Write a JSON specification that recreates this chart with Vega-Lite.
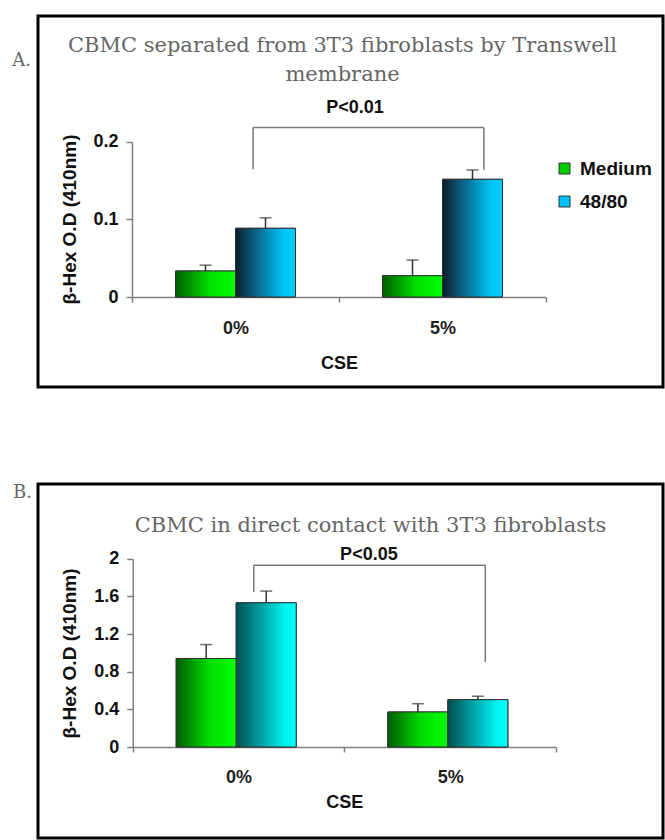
{
  "$schema": "https://vega.github.io/schema/vega-lite/v6.json",
  "padding": {"left": 10, "top": 14, "right": 0, "bottom": 0},
  "background": "white",
  "spacing": 92,
  "config": {
    "view": {"stroke": "#000", "strokeWidth": 3},
    "font": "Liberation Sans",
    "axis": {"grid": false}
  },
  "datasets": {
    "barsA": [
      {"cse": "0%", "grp": "Medium", "value": 0.0335, "upper": 0.041},
      {"cse": "0%", "grp": "48/80", "value": 0.0885, "upper": 0.102},
      {"cse": "5%", "grp": "Medium", "value": 0.0274, "upper": 0.0476},
      {"cse": "5%", "grp": "48/80", "value": 0.1516, "upper": 0.1636}
    ],
    "barsB": [
      {"cse": "0%", "grp": "Medium", "value": 0.94, "upper": 1.088},
      {"cse": "0%", "grp": "48/80", "value": 1.532, "upper": 1.656},
      {"cse": "5%", "grp": "Medium", "value": 0.372, "upper": 0.46},
      {"cse": "5%", "grp": "48/80", "value": 0.503, "upper": 0.539}
    ],
    "brA": [{"from": "0%", "to": "5%", "top": 0.2183, "lbot": 0.1645, "rbot": 0.1636, "ly": 0.2434, "label": "P<0.01"}],
    "brB": [{"from": "0%", "to": "5%", "top": 1.93, "lbot": 1.646, "rbot": 0.903, "ly": 2.043, "label": "P<0.05"}]
  },
  "vconcat": [
    {
      "width": 625,
      "height": 371,
      "title": {
        "text": ["CBMC separated from 3T3 fibroblasts by Transwell", "membrane"],
        "orient": "top", "anchor": "middle", "frame": "group",
        "baseline": "top", "offset": -69, "dx": -8, "lineHeight": 29,
        "font": "DejaVu Serif", "fontSize": 21, "fontWeight": "normal", "color": "#666"
      },
      "resolve": {"axis": {"x": "independent", "y": "independent"}},
      "layer": [
        {
          "data": {"name": "barsA"},
          "mark": {"type": "bar", "stroke": "#333", "strokeWidth": 1},
          "encoding": {
            "x": {"field": "cse", "type": "nominal",
              "scale": {"type": "band", "range": [94, 508], "paddingInner": 0, "paddingOuter": 0},
              "axis": {"orient": "bottom", "offset": -90, "tickBand": "extent", "tickSize": 5, "tickColor": "#808080", "tickWidth": 1.5,
                "domainColor": "#808080", "domainWidth": 1.5, "labelAngle": 0, "labelFont": "Liberation Sans", "labelFontWeight": "bold",
                "labelFontSize": 18, "labelColor": "#222", "labelPadding": 17, "title": "CSE", "titleFont": "Liberation Sans",
                "titleFontWeight": "bold", "titleFontSize": 18, "titleColor": "#111", "titleY": 66, "titleBaseline": "middle"}},
            "xOffset": {"field": "grp", "type": "nominal", "scale": {"domain": ["Medium", "48/80"], "paddingInner": 0, "paddingOuter": 0.725}},
            "y": {"field": "value", "type": "quantitative",
              "scale": {"domain": [0, 0.2], "range": [281, 125.7], "nice": false, "zero": true},
              "axis": {"orient": "left", "offset": -94, "values": [0, 0.1, 0.2], "format": "~g", "tickSize": 6, "tickColor": "#808080",
                "tickWidth": 1.5, "domainColor": "#808080", "domainWidth": 1.5, "labelFont": "Liberation Sans", "labelFontWeight": "bold",
                "labelFontSize": 18, "labelColor": "#111", "labelPadding": 8, "title": "β-Hex O.D (410nm)", "titleFont": "Liberation Sans",
                "titleFontWeight": "bold", "titleFontSize": 19, "titleColor": "#111", "titleX": -63, "titleY": 203, "titleAngle": 270,
                "titleAlign": "center", "titleBaseline": "middle", "grid": false}},
            "color": {"field": "grp", "type": "nominal",
              "scale": {"domain": ["Medium", "48/80"], "range": ["#00cc00", "#00bfff"]},
              "legend": {"orient": "none", "legendX": 517, "legendY": 143, "title": null, "symbolType": "square", "symbolSize": 121,
                "symbolStrokeColor": "#333", "symbolStrokeWidth": 1, "labelFont": "Liberation Sans", "labelFontWeight": "bold",
                "labelFontSize": 19, "labelColor": "#111", "labelOffset": 6, "rowPadding": 13}}
          }
        },
        {
          "data": {"name": "barsA"},
          "transform": [{"filter": "datum.grp === 'Medium'"}],
          "mark": {"type": "bar", "stroke": "#333", "strokeWidth": 1,
            "fill": {"gradient": "linear", "x1": 0, "y1": 0, "x2": 1, "y2": 0,
              "stops": [{"offset": 0, "color": "#005c00"}, {"offset": 0.55, "color": "#00dd00"}, {"offset": 1, "color": "#00ff00"}]}},
          "encoding": {
            "x": {"field": "cse", "type": "nominal", "axis": null},
            "xOffset": {"field": "grp", "type": "nominal"},
            "y": {"field": "value", "type": "quantitative", "axis": null}
          }
        },
        {
          "data": {"name": "barsA"},
          "transform": [{"filter": "datum.grp === '48/80'"}],
          "mark": {"type": "bar", "stroke": "#333", "strokeWidth": 1,
            "fill": {"gradient": "linear", "x1": 0, "y1": 0, "x2": 1, "y2": 0,
              "stops": [{"offset": 0, "color": "#0c1c28"}, {"offset": 0.45, "color": "#0a7aa6"}, {"offset": 0.8, "color": "#00c4f4"}, {"offset": 1, "color": "#00ccff"}]}},
          "encoding": {
            "x": {"field": "cse", "type": "nominal", "axis": null},
            "xOffset": {"field": "grp", "type": "nominal"},
            "y": {"field": "value", "type": "quantitative", "axis": null}
          }
        },
        {
          "data": {"name": "barsA"},
          "mark": {"type": "rule", "color": "#333", "strokeWidth": 1.5},
          "encoding": {
            "x": {"field": "cse", "type": "nominal", "axis": null},
            "xOffset": {"field": "grp", "type": "nominal"},
            "y": {"field": "value", "type": "quantitative", "axis": null},
            "y2": {"field": "upper"}
          }
        },
        {
          "data": {"name": "barsA"},
          "mark": {"type": "tick", "orient": "horizontal", "size": 12, "thickness": 1.5, "color": "#333"},
          "encoding": {
            "x": {"field": "cse", "type": "nominal", "axis": null},
            "xOffset": {"field": "grp", "type": "nominal"},
            "y": {"field": "upper", "type": "quantitative", "axis": null}
          }
        },
        {
          "data": {"name": "brA"},
          "mark": {"type": "rule", "color": "#777", "strokeWidth": 1.5},
          "encoding": {
            "x": {"field": "from", "type": "nominal", "bandPosition": 0.585, "axis": null},
            "y": {"field": "lbot", "type": "quantitative", "axis": null},
            "y2": {"field": "top"}
          }
        },
        {
          "data": {"name": "brA"},
          "mark": {"type": "rule", "color": "#777", "strokeWidth": 1.5},
          "encoding": {
            "x": {"field": "to", "type": "nominal", "bandPosition": 0.70, "axis": null},
            "y": {"field": "rbot", "type": "quantitative", "axis": null},
            "y2": {"field": "top"}
          }
        },
        {
          "data": {"name": "brA"},
          "mark": {"type": "rule", "color": "#777", "strokeWidth": 1.5},
          "encoding": {
            "x": {"field": "from", "type": "nominal", "bandPosition": 0.585, "axis": null},
            "x2": {"field": "to", "bandPosition": 0.70},
            "y": {"field": "top", "type": "quantitative", "axis": null}
          }
        },
        {
          "data": {"name": "brA"},
          "mark": {"type": "text", "font": "Liberation Sans", "fontWeight": "bold", "fontSize": 18, "color": "#111", "align": "center", "baseline": "middle"},
          "encoding": {
            "x": {"field": "to", "type": "nominal", "bandPosition": 0.077, "axis": null},
            "y": {"field": "ly", "type": "quantitative",
              "axis": {"orient": "left", "offset": 0, "title": "A.", "domain": false, "ticks": false, "labels": false, "grid": false,
                "titleX": -17, "titleY": 44, "titleAngle": 0, "titleAlign": "center", "titleBaseline": "middle",
                "titleFont": "DejaVu Serif", "titleFontSize": 18, "titleFontWeight": "normal", "titleColor": "#666"}},
            "text": {"field": "label"}
          }
        }
      ]
    },
    {
      "width": 625,
      "height": 354,
      "title": {
        "text": "CBMC in direct contact with 3T3 fibroblasts",
        "orient": "top", "anchor": "middle", "frame": "group",
        "baseline": "top", "offset": -53, "dx": 20, "lineHeight": 29,
        "font": "DejaVu Serif", "fontSize": 21, "fontWeight": "normal", "color": "#666"
      },
      "resolve": {"axis": {"x": "independent", "y": "independent"}},
      "layer": [
        {
          "data": {"name": "barsB"},
          "mark": {"type": "bar", "stroke": "#333", "strokeWidth": 1},
          "encoding": {
            "x": {"field": "cse", "type": "nominal",
              "scale": {"type": "band", "range": [94.7, 518], "paddingInner": 0, "paddingOuter": 0},
              "axis": {"orient": "bottom", "offset": -91, "tickBand": "extent", "tickSize": 5, "tickColor": "#808080", "tickWidth": 1.5,
                "domainColor": "#808080", "domainWidth": 1.5, "labelAngle": 0, "labelFont": "Liberation Sans", "labelFontWeight": "bold",
                "labelFontSize": 18, "labelColor": "#222", "labelPadding": 16, "title": "CSE", "titleFont": "Liberation Sans",
                "titleFontWeight": "bold", "titleFontSize": 18, "titleColor": "#111", "titleY": 55, "titleBaseline": "middle"}},
            "xOffset": {"field": "grp", "type": "nominal", "scale": {"domain": ["Medium", "48/80"], "paddingInner": 0, "paddingOuter": 0.7535}},
            "y": {"field": "value", "type": "quantitative",
              "scale": {"domain": [0, 2], "range": [263, 74.7], "nice": false, "zero": true},
              "axis": {"orient": "left", "offset": -94.7, "values": [0, 0.4, 0.8, 1.2, 1.6, 2], "format": "~g", "tickSize": 6, "tickColor": "#808080",
                "tickWidth": 1.5, "domainColor": "#808080", "domainWidth": 1.5, "labelFont": "Liberation Sans", "labelFontWeight": "bold",
                "labelFontSize": 18, "labelColor": "#111", "labelPadding": 8, "title": "β-Hex O.D (410nm)", "titleFont": "Liberation Sans",
                "titleFontWeight": "bold", "titleFontSize": 19, "titleColor": "#111", "titleX": -63, "titleY": 169, "titleAngle": 270,
                "titleAlign": "center", "titleBaseline": "middle", "grid": false}},
            "color": {"field": "grp", "type": "nominal",
              "scale": {"domain": ["Medium", "48/80"], "range": ["#00cc00", "#00e0e0"]},
              "legend": {"orient": "none", "legendX": 519, "legendY": 137, "title": null, "symbolType": "square", "symbolSize": 121,
                "symbolStrokeColor": "#333", "symbolStrokeWidth": 1, "labelFont": "Liberation Sans", "labelFontWeight": "bold",
                "labelFontSize": 19, "labelColor": "#111", "labelOffset": 6, "rowPadding": 14}}
          }
        },
        {
          "data": {"name": "barsB"},
          "transform": [{"filter": "datum.grp === 'Medium'"}],
          "mark": {"type": "bar", "stroke": "#333", "strokeWidth": 1,
            "fill": {"gradient": "linear", "x1": 0, "y1": 0, "x2": 1, "y2": 0,
              "stops": [{"offset": 0, "color": "#005c00"}, {"offset": 0.55, "color": "#00dd00"}, {"offset": 1, "color": "#00ff00"}]}},
          "encoding": {
            "x": {"field": "cse", "type": "nominal", "axis": null},
            "xOffset": {"field": "grp", "type": "nominal"},
            "y": {"field": "value", "type": "quantitative", "axis": null}
          }
        },
        {
          "data": {"name": "barsB"},
          "transform": [{"filter": "datum.grp === '48/80'"}],
          "mark": {"type": "bar", "stroke": "#333", "strokeWidth": 1,
            "fill": {"gradient": "linear", "x1": 0, "y1": 0, "x2": 1, "y2": 0,
              "stops": [{"offset": 0, "color": "#005050"}, {"offset": 0.45, "color": "#00a8ac"}, {"offset": 0.8, "color": "#00f0f0"}, {"offset": 1, "color": "#00ffff"}]}},
          "encoding": {
            "x": {"field": "cse", "type": "nominal", "axis": null},
            "xOffset": {"field": "grp", "type": "nominal"},
            "y": {"field": "value", "type": "quantitative", "axis": null}
          }
        },
        {
          "data": {"name": "barsB"},
          "mark": {"type": "rule", "color": "#333", "strokeWidth": 1.5},
          "encoding": {
            "x": {"field": "cse", "type": "nominal", "axis": null},
            "xOffset": {"field": "grp", "type": "nominal"},
            "y": {"field": "value", "type": "quantitative", "axis": null},
            "y2": {"field": "upper"}
          }
        },
        {
          "data": {"name": "barsB"},
          "mark": {"type": "tick", "orient": "horizontal", "size": 12, "thickness": 1.5, "color": "#333"},
          "encoding": {
            "x": {"field": "cse", "type": "nominal", "axis": null},
            "xOffset": {"field": "grp", "type": "nominal"},
            "y": {"field": "upper", "type": "quantitative", "axis": null}
          }
        },
        {
          "data": {"name": "brB"},
          "mark": {"type": "rule", "color": "#777", "strokeWidth": 1.5},
          "encoding": {
            "x": {"field": "from", "type": "nominal", "bandPosition": 0.572, "axis": null},
            "y": {"field": "lbot", "type": "quantitative", "axis": null},
            "y2": {"field": "top"}
          }
        },
        {
          "data": {"name": "brB"},
          "mark": {"type": "rule", "color": "#777", "strokeWidth": 1.5},
          "encoding": {
            "x": {"field": "to", "type": "nominal", "bandPosition": 0.666, "axis": null},
            "y": {"field": "rbot", "type": "quantitative", "axis": null},
            "y2": {"field": "top"}
          }
        },
        {
          "data": {"name": "brB"},
          "mark": {"type": "rule", "color": "#777", "strokeWidth": 1.5},
          "encoding": {
            "x": {"field": "from", "type": "nominal", "bandPosition": 0.572, "axis": null},
            "x2": {"field": "to", "bandPosition": 0.666},
            "y": {"field": "top", "type": "quantitative", "axis": null}
          }
        },
        {
          "data": {"name": "brB"},
          "mark": {"type": "text", "font": "Liberation Sans", "fontWeight": "bold", "fontSize": 18, "color": "#111", "align": "center", "baseline": "middle"},
          "encoding": {
            "x": {"field": "to", "type": "nominal", "bandPosition": 0.116, "axis": null},
            "y": {"field": "ly", "type": "quantitative",
              "axis": {"orient": "left", "offset": 0, "title": "B.", "domain": false, "ticks": false, "labels": false, "grid": false,
                "titleX": -16, "titleY": 8, "titleAngle": 0, "titleAlign": "center", "titleBaseline": "middle",
                "titleFont": "DejaVu Serif", "titleFontSize": 18, "titleFontWeight": "normal", "titleColor": "#666"}},
            "text": {"field": "label"}
          }
        }
      ]
    }
  ]
}
